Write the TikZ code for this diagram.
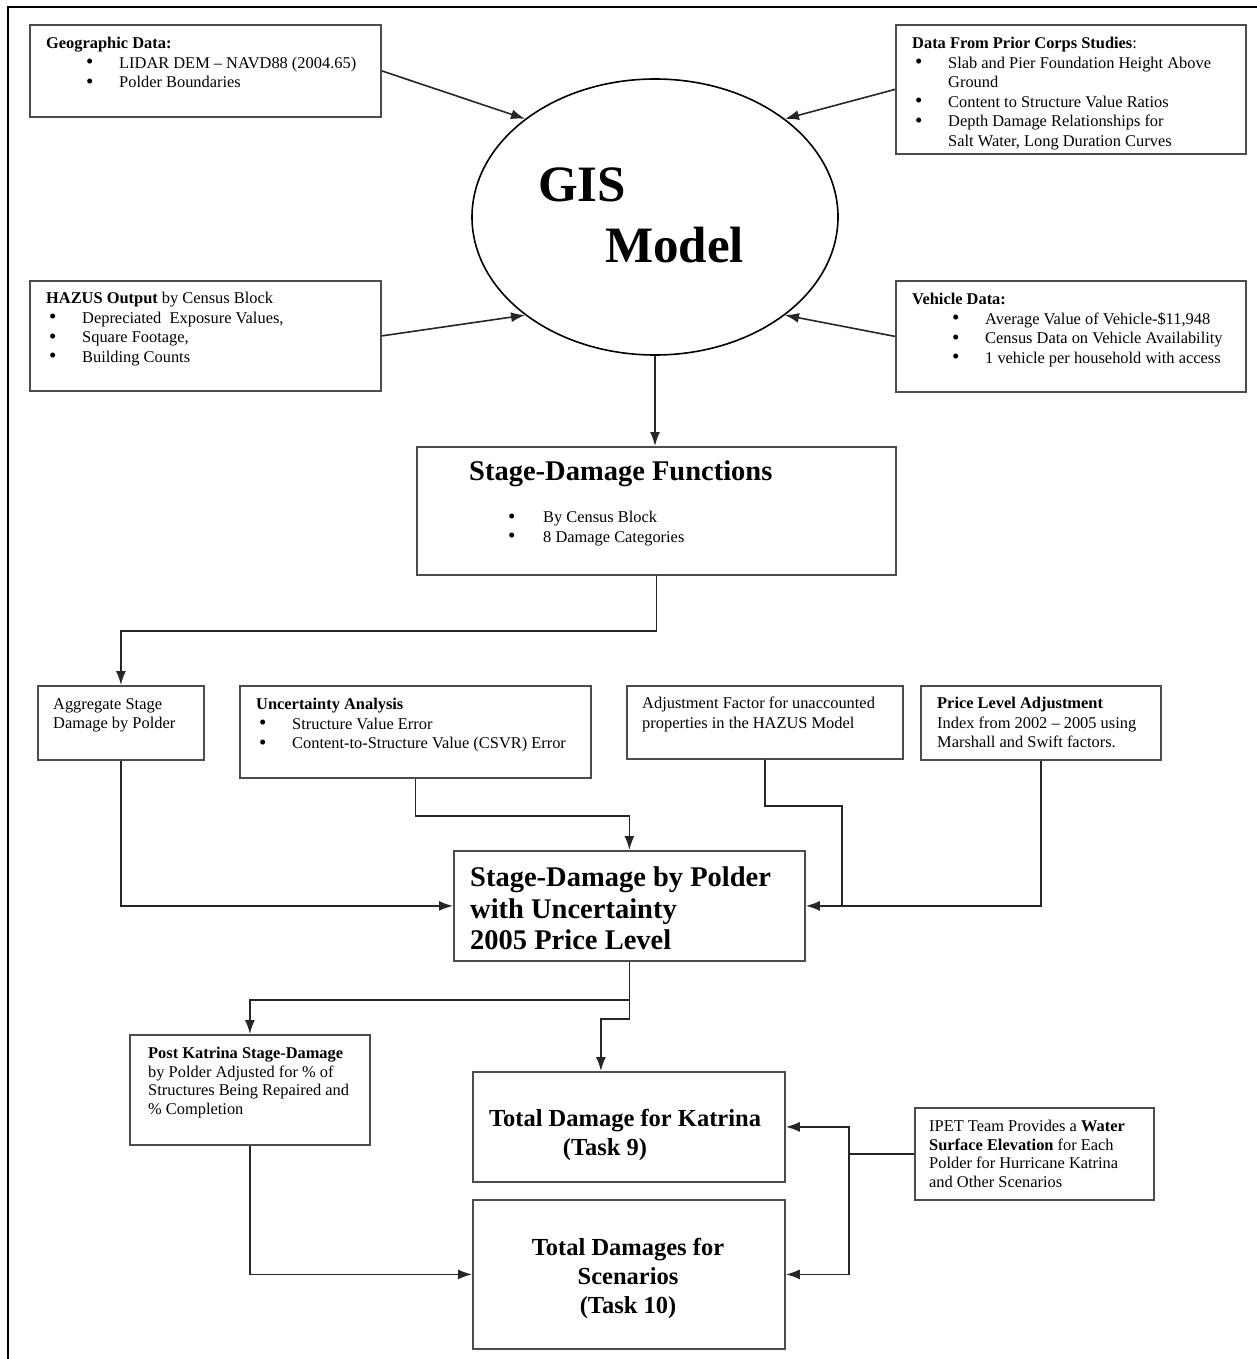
\documentclass[tikz,border=0pt]{standalone}
\usepackage{fontspec}
\setmainfont{Liberation Serif}
\usetikzlibrary{arrows.meta, shapes.geometric}

\newcommand{\itemdot}[1][33pt]{\makebox[#1][l]{\raisebox{-0.8pt}{\fontsize{21}{19.5}\selectfont\textbullet}}}

\begin{document}
\begin{tikzpicture}[x = 1pt, y = -1pt, > = {Latex[length = 14pt, width = 10pt]}, font = \fontsize{16.4}{19.5}\selectfont,
	databox/.style = {draw = black!70, line width = 1.8pt, anchor = north west, inner sep = 0pt},
	boxtext/.style = {anchor = north west, inner sep = 0pt, align = left},
	headtext/.style = {inner sep = 0pt, font = \fontsize{28.5}{31.5}\selectfont\bfseries},
	flow/.style = {->, line width = 1.6pt, draw = black!85}]

	% Page and frame

	\useasboundingbox (0, 0) rectangle (1257, 1359);
	\draw [line width = 2.8pt] (1257, 7) -- (8, 7) -- (8, 1359);

	% GIS model

	\node [ellipse, draw, line width = 1.6pt, minimum width = 366, minimum height = 276, inner sep = 0pt] (gis) at (655, 217) {};
	\node [boxtext, font = \fontsize{51}{61}\selectfont\bfseries] (gistext) at (538, 168) {GIS\\\hspace*{67pt}Model};

	% Input boxes

	\node [databox, minimum width = 351, minimum height = 92] (geo) at (29, 24) {};
	\node [boxtext] (geotext) at (46, 37) {\textbf{Geographic Data:}\\\hspace*{40pt}\itemdot LIDAR DEM – NAVD88 (2004.65)\\\hspace*{40pt}\itemdot Polder Boundaries};

	\node [databox, minimum width = 350, minimum height = 129] (prior) at (895, 24) {};
	\node [boxtext] (priortext) at (912, 37) {\textbf{Data From Prior Corps Studies}:\\\hspace*{3pt}\itemdot Slab and Pier Foundation Height Above\\\hspace*{36pt}Ground\\\hspace*{3pt}\itemdot Content to Structure Value Ratios\\\hspace*{3pt}\itemdot Depth Damage Relationships for\\\hspace*{36pt}Salt Water, Long Duration Curves};

	\node [databox, minimum width = 351, minimum height = 110] (hazus) at (29, 280) {};
	\node [boxtext] (hazustext) at (46, 292) {\textbf{HAZUS Output} by Census Block\\\hspace*{3pt}\itemdot Depreciated~ Exposure Values,\\\hspace*{3pt}\itemdot Square Footage,\\\hspace*{3pt}\itemdot Building Counts};

	\node [databox, minimum width = 350, minimum height = 111] (veh) at (895, 280) {};
	\node [boxtext] (vehtext) at (912, 293) {\textbf{Vehicle Data:}\\\hspace*{40pt}\itemdot Average Value of Vehicle-\$11,948\\\hspace*{40pt}\itemdot Census Data on Vehicle Availability\\\hspace*{40pt}\itemdot 1 vehicle per household with access};

	% Stage-damage functions

	\node [databox, minimum width = 479, minimum height = 128] (sdf) at (416, 446) {};
	\node [headtext, anchor = north west] (sdftitle) at (469, 461) {Stage-Damage Functions};
	\node [boxtext] (sdftext) at (508, 511) {\itemdot[35pt]By Census Block\\\itemdot[35pt]8 Damage Categories};

	% Adjustment boxes

	\node [databox, minimum width = 166, minimum height = 74] (agg) at (37, 685) {};
	\node [boxtext] (aggtext) at (53, 698) {Aggregate Stage\\Damage by Polder};

	\node [databox, minimum width = 351, minimum height = 92] (unc) at (239, 685) {};
	\node [boxtext] (unctext) at (256, 698) {\textbf{Uncertainty Analysis}\\\hspace*{3pt}\itemdot Structure Value Error\\\hspace*{3pt}\itemdot Content-to-Structure Value (CSVR) Error};

	\node [databox, minimum width = 276, minimum height = 73] (adj) at (626, 685) {};
	\node [boxtext] (adjtext) at (642, 697) {Adjustment Factor for unaccounted\\properties in the HAZUS Model};

	\node [databox, minimum width = 240, minimum height = 74] (price) at (920, 685) {};
	\node [boxtext] (pricetext) at (937, 697) {\textbf{Price Level Adjustment}\\Index from 2002 – 2005 using\\Marshall and Swift factors.};

	% Stage-damage by polder

	\node [databox, minimum width = 351, minimum height = 110] (polder) at (453, 850) {};
	\node [headtext, anchor = north west, align = left] (poldertext) at (470, 867) {Stage-Damage by Polder\\with Uncertainty\\2005 Price Level};

	% Results

	\node [databox, minimum width = 240, minimum height = 110] (post) at (129, 1034) {};
	\node [boxtext, font = \fontsize{16.4}{18.5}\selectfont] (posttext) at (148, 1047) {\textbf{Post Katrina Stage-Damage}\\by Polder Adjusted for \% of\\Structures Being Repaired and\\\% Completion};

	\node [databox, minimum width = 312, minimum height = 110] (kat) at (472, 1071) {};
	\node [headtext, anchor = north, align = center, font = \fontsize{24.5}{29}\selectfont\bfseries] (kattext) at (625, 1109) {Total Damage for Katrina\\\hspace*{-40pt}(Task 9)};

	\node [databox, minimum width = 312, minimum height = 149] (scen) at (472, 1199) {};
	\node [headtext, anchor = north, align = center, font = \fontsize{24.5}{29}\selectfont\bfseries] (scentext) at (628, 1238) {Total Damages for\\Scenarios\\(Task 10)};

	\node [databox, minimum width = 239, minimum height = 92] (ipet) at (914, 1107) {};
	\node [boxtext, font = \fontsize{16.4}{18.7}\selectfont] (ipettext) at (929, 1120) {IPET Team Provides a \textbf{Water}\\\textbf{Surface Elevation} for Each\\Polder for Hurricane Katrina\\and Other Scenarios};

	% Connectors

	\draw [flow] (geo.east) -- (gis.north west);
	\draw [flow] (prior.west) -- (gis.north east);
	\draw [flow] (hazus.east) -- (gis.south west);
	\draw [flow] (veh.west) -- (gis.south east);
	\draw [flow] (gis.south) -- (gis.south |- sdf.north);
	\draw [flow] (sdf.south) -- ++(0, 55) -| (agg.north);
	\draw [flow] (agg.south) |- (polder.west);
	\draw [flow] (unc.south) -- ++(0, 37) -| (polder.north);
	\draw [line width = 1.6pt, draw = black!85] (adj.south) -- ++(0, 46) -| ([xshift = 36pt] polder.east);
	\draw [flow] (price.south) |- (polder.east);
	\draw [flow] (polder.south) -- ++(0, 38) -| (post.north);
	\draw [flow] (polder.south) -- ++(0, 57) -| ([xshift = -28pt] kat.north);
	\draw [flow] (post.south) |- (scen.west);
	\draw [flow] (ipet.west) -- ++(-65, 0) |- (kat.east);
	\draw [flow] (ipet.west) -- ++(-65, 0) |- (scen.east);

\end{tikzpicture}
\end{document}
